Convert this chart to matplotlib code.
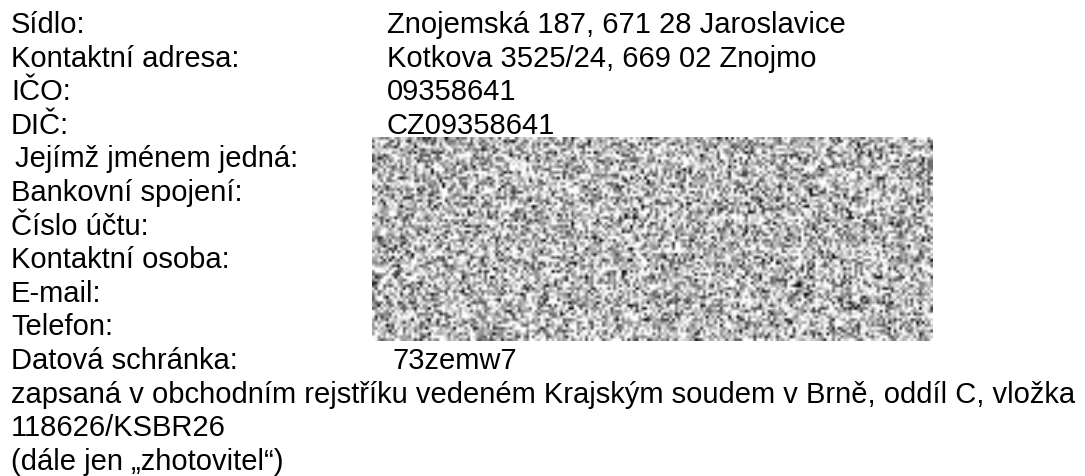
import numpy as np
import matplotlib
matplotlib.use("Agg")
import matplotlib.pyplot as plt

# ---- content ----
labels = [
    "Sídlo:",
    "Kontaktní adresa:",
    "IČO:",
    "DIČ:",
    "Jejímž jménem jedná:",
    "Bankovní spojení:",
    "Číslo účtu:",
    "Kontaktní osoba:",
    "E-mail:",
    "Telefon:",
    "Datová schránka:",
]
values = [
    "Znojemská 187, 671 28 Jaroslavice",
    "Kotkova 3525/24, 669 02 Znojmo",
    "09358641",
    "CZ09358641",
    "", "", "", "", "", "",
    "73zemw7",
]
footer_lines = [
    "zapsaná v obchodním rejstříku vedeném Krajským soudem v Brně, oddíl C, vložka",
    "118626/KSBR26",
    "(dále jen „zhotovitel“)",
]
redacted_rows = (4, 9)   # first and last row hidden by the noise block

# ---- layout (pixels) ----
W, H = 1085, 477
left_x = 11
value_x = 387
base0 = 33.0
step = 33.6
fsize = 21.0
label_shift = {4: 4}
value_shift = {10: 5}

plt.rcParams['font.family'] = ['Liberation Sans', 'DejaVu Sans']

fig = plt.figure(figsize=(W / 100, H / 100), dpi=100)
ax = fig.add_axes([0, 0, 1, 1])
ax.set_xlim(0, W)
ax.set_ylim(H, 0)
ax.axis('off')

for i, (lab, val) in enumerate(zip(labels, values)):
    y = base0 + i * step
    ax.text(left_x + label_shift.get(i, 0), y, lab, fontsize=fsize,
            va='baseline', ha='left', color='black')
    if val:
        ax.text(value_x + value_shift.get(i, 0), y, val, fontsize=fsize,
                va='baseline', ha='left', color='black')

for j, line in enumerate(footer_lines):
    y = base0 + (len(labels) + j) * step
    ax.text(left_x, y, line, fontsize=fsize, va='baseline', ha='left', color='black')

# ---- redaction texture ----
rng = np.random.default_rng(7)
nx, ny = 200, 72
tex = rng.normal(0.74, 0.30, size=(ny, nx))
tex = np.clip(tex, 0, 1)
top = base0 + redacted_rows[0] * step - 29
bot = base0 + redacted_rows[1] * step + 7
ax.imshow(tex, cmap='gray', vmin=0, vmax=1, interpolation='bilinear',
          extent=[372, 933, bot, top], aspect='auto', zorder=1)
ax.set_xlim(0, W)
ax.set_ylim(H, 0)

fig.savefig("out.png", dpi=100, facecolor='white')
